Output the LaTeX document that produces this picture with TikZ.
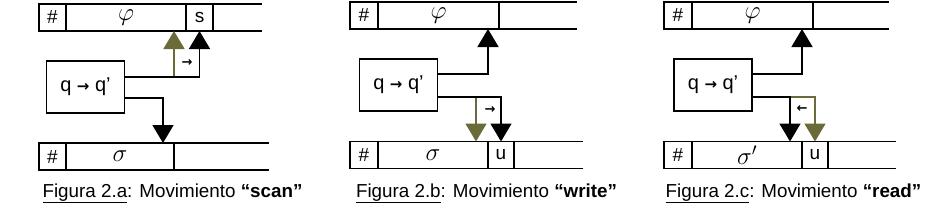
\documentclass[tikz,border=0pt]{standalone}
\usepackage{fontspec}
\setmainfont{Liberation Sans}
\newfontfamily\arrowfont{DejaVu Sans}
\usetikzlibrary{positioning,arrows.meta}
\definecolor{olivegreen}{RGB}{107,107,58}
\tikzset{
  cell/.style={draw, line width=1.6pt, minimum height=27pt, inner sep=0pt, outer sep=0pt,
    font=\fontsize{19}{19}\selectfont},
  greek/.style={font=\fontsize{23}{23}\selectfont},
  tape/.style={line width=1.6pt},
  statebox/.style={draw, line width=1.6pt, minimum width=78pt, minimum height=52pt,
    inner sep=0pt, outer sep=0pt, font=\fontsize{20}{20}\selectfont},
  conn/.style={line width=1.6pt, -{Triangle[width=21pt,length=18pt]}},
  gconn/.style={conn, color=olivegreen},
  move/.style={inner sep=0pt, font=\arrowfont\bfseries\fontsize{13}{13}\selectfont},
  caption/.style={anchor=base, inner sep=0pt, font=\fontsize{18.8}{18.8}\selectfont}
}
\newcommand{\qmove}{q {\arrowfont\bfseries\fontsize{15}{15}\selectfont →} q'}
\begin{document}
\begin{tikzpicture}[x=1pt, y=-1pt]
\useasboundingbox (0,0) rectangle (929,206);

% Figura 2.a
\node[cell, minimum width=27pt] (hashta) at (52.5,17.5) {\#};
\node[cell, greek, minimum width=120pt, right=0pt of hashta] (phia) {$\varphi$};
\node[cell, minimum width=27pt, right=0pt of phia] (sa) {s};
\draw[tape] (sa.north east) -- ++(49,0);
\draw[tape] (sa.south east) -- ++(49,0);

\node[cell, minimum width=27pt] (hashba) at (52.5,156.5) {\#};
\node[cell, greek, minimum width=108pt, right=0pt of hashba] (sigmaa) {$\sigma$};
\draw[tape] (sigmaa.north east) -- ++(95,0);
\draw[tape] (sigmaa.south east) -- ++(95,0);

\node[statebox] (boxa) at (85.5,87) {\qmove};
\coordinate (upa) at ([yshift=10pt]boxa.east);
\coordinate (ga) at ([xshift=-12pt]phia.south east);
\draw[gconn] (ga |- upa) -- (ga);
\draw[conn] (upa) -| (sa.south);
\draw[conn] ([yshift=-11pt]boxa.east) -| ([xshift=-11pt]sigmaa.north east);
\node[move] (mva) at (187,63) {→};

\node[caption] (capa) at (172.5,197) {\underline{Figura 2.a}: Movimiento \textbf{“scan”}};

% Figura 2.b
\node[cell, minimum width=28pt] (hashtb) at (364,15.5) {\#};
\node[cell, greek, minimum width=121pt, right=0pt of hashtb] (phib) {$\varphi$};
\draw[tape] (phib.north east) -- ++(78,0);
\draw[tape] (phib.south east) -- ++(78,0);

\node[cell, minimum width=28pt] (hashbb) at (364,155) {\#};
\node[cell, greek, minimum width=110pt, right=0pt of hashbb] (sigmab) {$\sigma$};
\node[cell, minimum width=26pt, right=0pt of sigmab] (ub) {u};
\draw[tape] (ub.north east) -- ++(69,0);
\draw[tape] (ub.south east) -- ++(69,0);

\node[statebox] (boxb) at (398.5,85) {\qmove};
\coordinate (lowb) at ([yshift=-12pt]boxb.east);
\coordinate (gb) at ([xshift=-12pt]sigmab.north east);
\draw[conn] ([yshift=11pt]boxb.east) -| ([xshift=-11pt]phib.south east);
\draw[gconn] (gb |- lowb) -- (gb);
\draw[conn] (lowb) -| (ub.north);
\node[move] (mvb) at (490,110) {→};

\node[caption] (capb) at (486.5,197) {\underline{Figura 2.b}: Movimiento \textbf{“write”}};

% Figura 2.c
\node[cell, minimum width=28pt] (hashtc) at (678,15.5) {\#};
\node[cell, greek, minimum width=121pt, right=0pt of hashtc] (phic) {$\varphi$};
\draw[tape] (phic.north east) -- ++(76,0);
\draw[tape] (phic.south east) -- ++(76,0);

\node[cell, minimum width=28pt] (hashbc) at (678,155) {\#};
\node[cell, greek, minimum width=110pt, right=0pt of hashbc] (sigmac) {$\sigma'$};
\node[cell, minimum width=26pt, right=0pt of sigmac] (uc) {u};
\draw[tape] (uc.north east) -- ++(68,0);
\draw[tape] (uc.south east) -- ++(68,0);

\node[statebox] (boxc) at (713,85) {\qmove};
\coordinate (lowc) at ([yshift=-12pt]boxc.east);
\coordinate (gc) at ([xshift=-12pt]sigmac.north east);
\draw[conn] ([yshift=11pt]boxc.east) -| ([xshift=-11pt]phic.south east);
\draw[gconn] (gc |- lowc) -| (uc.north);
\draw[conn] (lowc) -| (gc);
\node[move] (mvc) at (802,109) {←};

\node[caption] (capc) at (793.5,197) {\underline{Figura 2.c}: Movimiento \textbf{“read”}};
\end{tikzpicture}
\end{document}
